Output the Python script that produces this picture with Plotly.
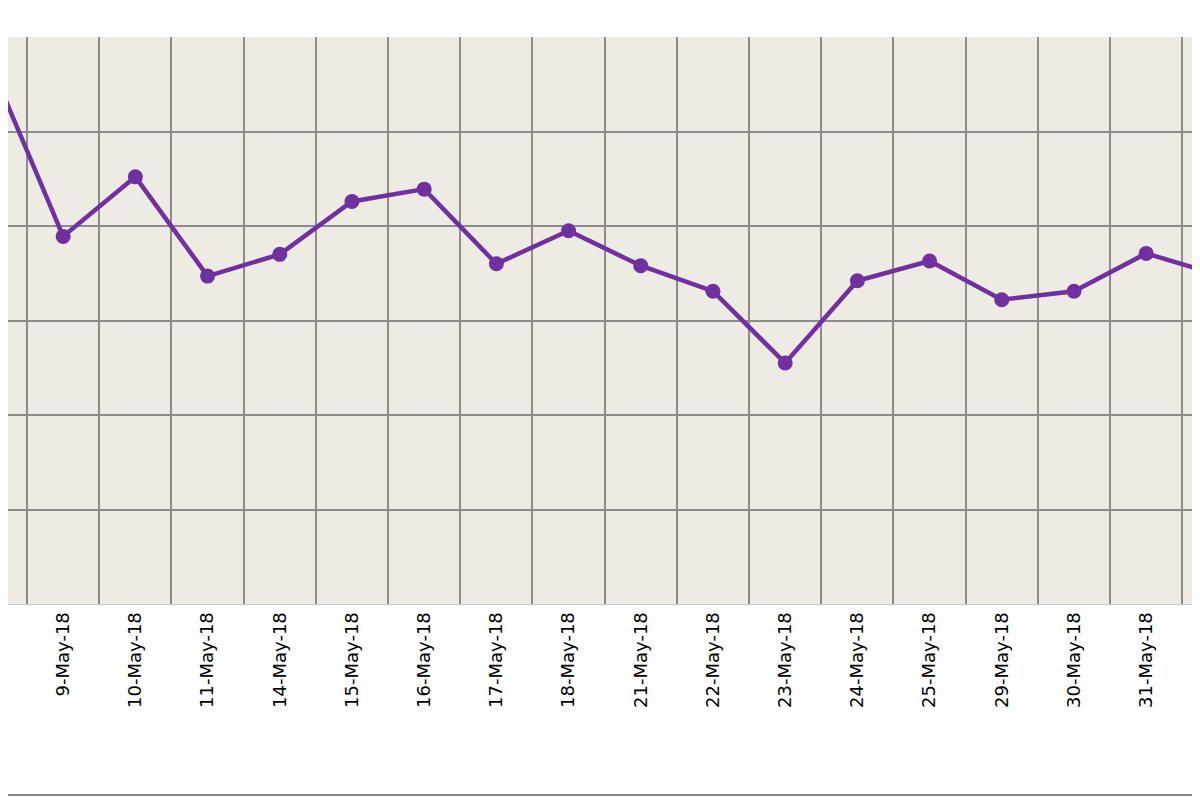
import plotly.graph_objects as go

dates = ["8-May-18","9-May-18","10-May-18","11-May-18","14-May-18","15-May-18","16-May-18",
         "17-May-18","18-May-18","21-May-18","22-May-18","23-May-18","24-May-18","25-May-18",
         "29-May-18","30-May-18","31-May-18","1-Jun-18"]
values = [5.70,3.89,4.52,3.47,3.70,4.26,4.39,3.60,3.95,3.58,3.31,2.55,3.42,3.63,3.22,3.31,3.71,3.48]

idx = list(range(len(dates)))
fig = go.Figure(go.Scatter(x=idx, y=values, mode="lines+markers", cliponaxis=False,
    line=dict(color="#7030a0", width=4.5), marker=dict(color="#7030a0", size=15)))

H = 567.0
fig.update_layout(
    width=1200, height=800, margin=dict(l=0, r=0, t=29, b=204),
    paper_bgcolor="white", plot_bgcolor="#eeebe2", showlegend=False,
    font=dict(family="DejaVu Sans", size=18, color="#000"),
    xaxis=dict(range=[0.236, 16.856], tickvals=idx, ticktext=dates, tickangle=-90,
               showgrid=False, zeroline=False, ticks="", showline=True, linecolor="#b8c8d8",
               minor=dict(tickvals=[i + 0.5 for i in idx], showgrid=True, gridcolor="#8c8c8c", gridwidth=1.5)),
    yaxis=dict(range=[0, 6], dtick=1, showticklabels=False, showgrid=True,
               gridcolor="#8c8c8c", gridwidth=1.5, zeroline=False),
    shapes=[dict(type="line", xref="paper", yref="paper", x0=0, x1=1,
                 y0=-(787 - 596) / H, y1=-(787 - 596) / H, line=dict(color="#888", width=2))],
)
fig.write_html("out.html")
